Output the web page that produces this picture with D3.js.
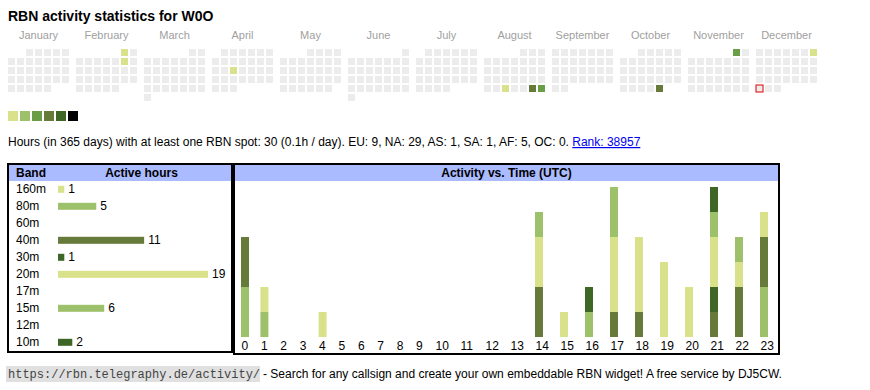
<!DOCTYPE html>
<html><head><meta charset="utf-8">
<script src="https://cdn.jsdelivr.net/npm/d3@7/dist/d3.min.js"></script>
<style>
body{margin:0;background:#fff;}
svg{display:block;font-family:"Liberation Sans",Arial,sans-serif;}
</style>
</head><body>
<svg id="chart" width="870" height="390"></svg>
<script>
// ---------- DATA ----------
const callsign = "W0O";
const year = 2025;
const monthNames = ["January","February","March","April","May","June","July","August","September","October","November","December"];
const activeDays = ["2025-02-01","2025-02-08","2025-04-16","2025-08-27","2025-08-30","2025-08-31","2025-10-31","2025-11-01","2025-12-07"];
const activeDayLevels = [1,1,1,1,4,3,4,3,1];
const today = "2025-12-29";
const levelColors = ["#d9e28b","#9dc06a","#6a9e46","#667a3a","#3d6627","#000000"];

const periodDays = 365;
const totalHours = 30;
const hoursPerDay = "0.1";
const continents = ["EU","NA","AS","SA","AF","OC"];
const continentHours = [9,29,1,1,5,0];
const rank = 38957;

const bands = ["160m","80m","60m","40m","30m","20m","17m","15m","12m","10m"];
const bandHours = [1,5,0,11,1,19,0,6,0,2];
const bandColors = ["#d9e28b","#9dc06a","#6a9e46","#667a3a","#3d6627","#d9e28b","#6a9e46","#9dc06a","#667a3a","#3d6627"];

const hourLabels = [0,1,2,3,4,5,6,7,8,9,10,11,12,13,14,15,16,17,18,19,20,21,22,23];
//                 0 1 2 3 4 5 6 7 8 9 10 11 12 13 14 15 16 17 18 19 20 21 22 23
const hours160m = [0,0,0,0,1,0,0,0,0,0,0, 0, 0, 0, 0, 0, 0, 0, 0, 0, 0, 0, 0, 0];
const hours80m  = [2,1,0,0,0,0,0,0,0,0,0, 0, 0, 0, 0, 0, 0, 0, 0, 0, 0, 0, 0, 2];
const hours60m  = [0,0,0,0,0,0,0,0,0,0,0, 0, 0, 0, 0, 0, 0, 0, 0, 0, 0, 0, 0, 0];
const hours40m  = [2,0,0,0,0,0,0,0,0,0,0, 0, 0, 0, 2, 0, 0, 1, 1, 0, 0, 1, 2, 2];
const hours30m  = [0,0,0,0,0,0,0,0,0,0,0, 0, 0, 0, 0, 0, 0, 0, 0, 0, 0, 1, 0, 0];
const hours20m  = [0,1,0,0,0,0,0,0,0,0,0, 0, 0, 0, 2, 1, 0, 3, 3, 3, 2, 2, 1, 1];
const hours17m  = [0,0,0,0,0,0,0,0,0,0,0, 0, 0, 0, 0, 0, 0, 0, 0, 0, 0, 0, 0, 0];
const hours15m  = [0,0,0,0,0,0,0,0,0,0,0, 0, 0, 0, 1, 0, 1, 2, 0, 0, 0, 1, 1, 0];
const hours12m  = [0,0,0,0,0,0,0,0,0,0,0, 0, 0, 0, 0, 0, 0, 0, 0, 0, 0, 0, 0, 0];
const hours10m  = [0,0,0,0,0,0,0,0,0,0,0, 0, 0, 0, 0, 0, 1, 0, 0, 0, 0, 1, 0, 0];
const bandHourSeries = [hours160m,hours80m,hours60m,hours40m,hours30m,hours20m,hours17m,hours15m,hours12m,hours10m];

// ---------- DRAW ----------
const svg = d3.select("#chart");

svg.append("text").attr("x", 8).attr("y", 21)
  .attr("font-size", 14).attr("font-weight", "bold").attr("fill", "#000")
  .text("RBN activity statistics for " + callsign);

// Calendar
const fmt = d3.timeFormat("%Y-%m-%d");
const levelByDay = new Map(activeDays.map((d, i) => [d, activeDayLevels[i]]));
const monthX = d3.scaleLinear().domain([0, 12]).range([8, 824]);
const colX = d3.scaleLinear().domain([0, 7]).range([0, 63]);
const rowY = d3.scaleLinear().domain([0, 6]).range([49, 103]);
const levelColor = d3.scaleOrdinal().domain([1,2,3,4,5,6]).range(levelColors);
const wd = d => (d.getDay() + 6) % 7;

const cal = svg.append("g");
cal.selectAll("text.month").data(monthNames).join("text")
  .attr("class", "month")
  .attr("x", (d, i) => monthX(i) + colX(3.5) - 1)
  .attr("y", 39).attr("text-anchor", "middle")
  .attr("font-size", 11).attr("fill", "#a0a0a0").text(d => d);

const days = d3.timeDays(new Date(year, 0, 1), new Date(year + 1, 0, 1));
cal.selectAll("rect.day").data(days).join("rect")
  .attr("class", "day")
  .attr("x", d => monthX(d.getMonth()) + colX(wd(d)))
  .attr("y", d => {
    const first = new Date(d.getFullYear(), d.getMonth(), 1);
    return rowY(Math.floor((d.getDate() - 1 + wd(first)) / 7));
  })
  .attr("width", 7).attr("height", 7)
  .attr("fill", d => levelByDay.has(fmt(d)) ? levelColor(levelByDay.get(fmt(d))) : "#ececec")
  .attr("stroke", d => fmt(d) === today ? "#e00000" : "none")
  .attr("stroke-width", 1);

// Legend
const legX = d3.scaleLinear().domain([0, 6]).range([8, 80]);
svg.selectAll("rect.leg").data(levelColors).join("rect")
  .attr("class", "leg")
  .attr("x", (d, i) => legX(i)).attr("y", 111)
  .attr("width", 10).attr("height", 10).attr("fill", d => d);

// Stats line
const stats = svg.append("text").attr("x", 8).attr("y", 146).attr("font-size", 12).attr("fill", "#000");
stats.append("tspan").text(
  `Hours (in ${periodDays} days) with at least one RBN spot: ${totalHours} (${hoursPerDay}h / day). ` +
  continents.map((c, i) => `${c}: ${continentHours[i]}`).join(", ") + ". ");
stats.append("tspan").attr("fill", "#0000ee").style("text-decoration", "underline").text(`Rank: ${rank}`);

// Band table box
svg.append("rect").attr("x", 8).attr("y", 164).attr("width", 224).attr("height", 188)
  .attr("fill", "#fff").attr("stroke", "#000").attr("stroke-width", 2);
svg.append("rect").attr("x", 9).attr("y", 165).attr("width", 222).attr("height", 16).attr("fill", "#aabbff");
svg.append("text").attr("x", 16).attr("y", 177).attr("font-size", 12).attr("font-weight", "bold").text("Band");
svg.append("text").attr("x", 141.5).attr("y", 177).attr("text-anchor", "middle")
  .attr("font-size", 12).attr("font-weight", "bold").text("Active hours");

const rowYb = d3.scalePoint().domain(bands).range([193.3, 346.3]);
const barW = d3.scaleLinear().domain([1, 19]).range([6.3, 150]);
const bandRows = svg.append("g").selectAll("g").data(bands).join("g")
  .attr("transform", d => `translate(0,${rowYb(d)})`);
bandRows.append("text").attr("x", 16).attr("y", 0).attr("font-size", 12).text(d => d);
bandRows.filter((d, i) => bandHours[i] > 0).append("rect")
  .attr("x", 58).attr("y", -7.5).attr("height", 7)
  .attr("width", d => barW(bandHours[bands.indexOf(d)]))
  .attr("fill", d => bandColors[bands.indexOf(d)]);
bandRows.filter((d, i) => bandHours[i] > 0).append("text")
  .attr("x", d => 58 + barW(bandHours[bands.indexOf(d)]) + 4).attr("y", 0)
  .attr("font-size", 12).text(d => bandHours[bands.indexOf(d)]);

// Activity box
svg.append("rect").attr("x", 234).attr("y", 164).attr("width", 545).attr("height", 190)
  .attr("fill", "#fff").attr("stroke", "#000").attr("stroke-width", 2);
svg.append("rect").attr("x", 235).attr("y", 165).attr("width", 543).attr("height", 16).attr("fill", "#aabbff");
svg.append("text").attr("x", 506.5).attr("y", 177).attr("text-anchor", "middle")
  .attr("font-size", 12).attr("font-weight", "bold").text("Activity vs. Time (UTC)");

const x = d3.scaleLinear().domain([0, 10, 23]).range([241, 435, 760]);
const y = d3.scaleLinear().domain([0, 6]).range([337, 187]);
const table = hourLabels.map((h, hi) => {
  const o = { hour: h };
  bands.forEach((b, bi) => o[b] = bandHourSeries[bi][hi]);
  return o;
});
const series = d3.stack().keys(bands)(table);
svg.append("g").selectAll("g").data(series).join("g")
  .attr("fill", (s, i) => bandColors[i])
  .selectAll("rect").data(s => s.filter(d => d[1] > d[0])).join("rect")
  .attr("x", d => x(d.data.hour)).attr("width", 8)
  .attr("y", d => y(d[1])).attr("height", d => y(d[0]) - y(d[1]));

const axis = svg.append("g").attr("transform", "translate(0,350)")
  .call(d3.axisBottom(x).tickValues(hourLabels).tickSize(0).tickPadding(0).tickFormat(d3.format("d")));
axis.select(".domain").remove();
axis.selectAll("text").attr("y", 0).attr("dy", 0).attr("text-anchor", "start")
  .attr("font-size", 12).attr("font-family", "Liberation Sans, Arial, sans-serif").attr("fill", "#000");

// Footer
svg.append("rect").attr("x", 6).attr("y", 366).attr("width", 254).attr("height", 16).attr("fill", "#e0e0e0");
svg.append("text").attr("x", 8).attr("y", 378).attr("font-size", 12)
  .attr("font-family", "Liberation Mono, monospace").attr("fill", "#444")
  .text("https://rbn.telegraphy.de/activity/");
svg.append("text").attr("x", 263).attr("y", 378).attr("font-size", 12).attr("fill", "#000")
  .text("- Search for any callsign and create your own embeddable RBN widget! A free service by DJ5CW.");
</script>
</body></html>
